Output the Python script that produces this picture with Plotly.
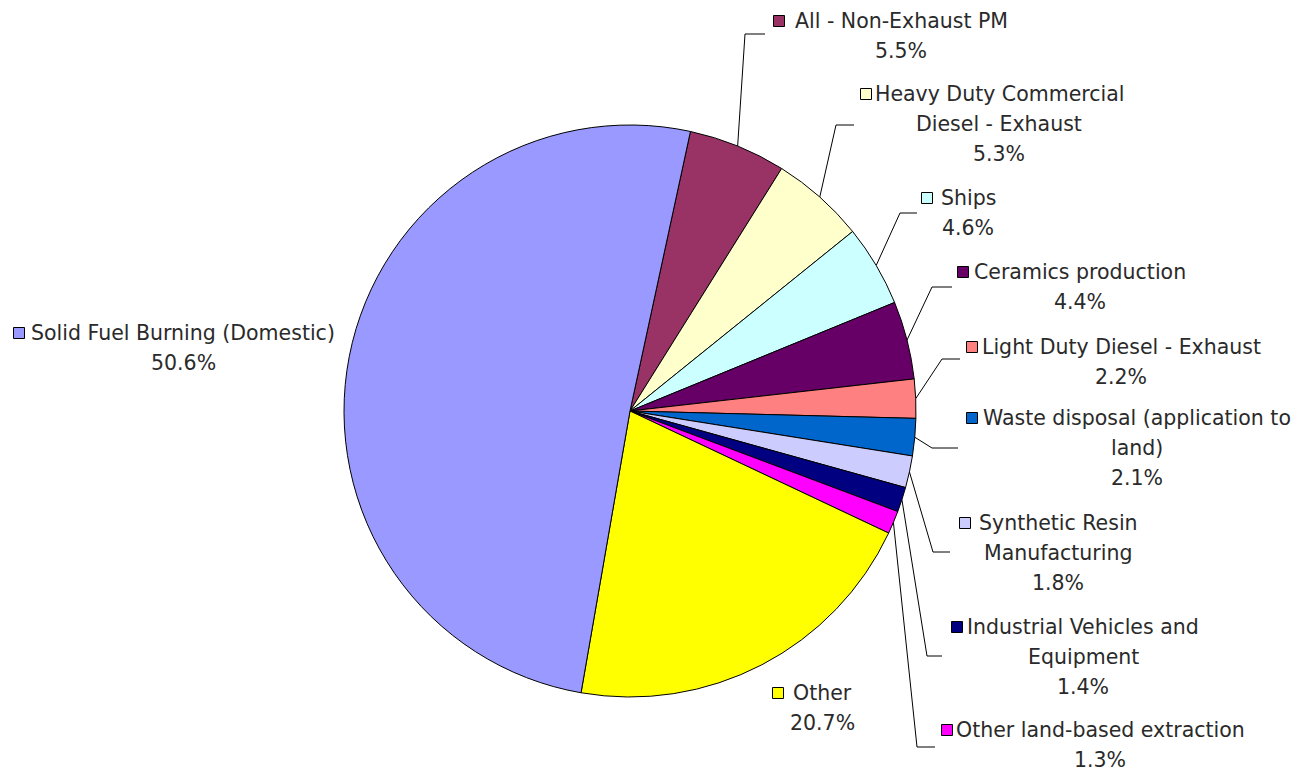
import math
import plotly.graph_objects as go

W, H = 1306, 771

# Source categories, wrapped the way their labels are printed
label_lines = [
    ["All - Non-Exhaust PM"],
    ["Heavy Duty Commercial", "Diesel - Exhaust"],
    ["Ships"],
    ["Ceramics production"],
    ["Light Duty Diesel - Exhaust"],
    ["Waste disposal (application to", "land)"],
    ["Synthetic Resin", "Manufacturing"],
    ["Industrial Vehicles and", "Equipment"],
    ["Other land-based extraction"],
    ["Other"],
    ["Solid Fuel Burning (Domestic)"],
]
sources = [" ".join(lines) for lines in label_lines]

# Share of emissions (%)
shares = [5.5, 5.3, 4.6, 4.4, 2.2, 2.1, 1.8, 1.4, 1.3, 20.7, 50.6]

colors = [
    "#993366", "#FFFFCC", "#CCFFFF", "#660066", "#FF8080", "#0066CC",
    "#CCCCFF", "#000080", "#FF00FF", "#FFFF00", "#9999FF",
]

# ---- layout (pixels) ----
CX, CY, R = 630, 411, 286
ROTATION = 12.2
LINE_H = 30
FONT = dict(family="DejaVu Sans", size=20.5, color="#2a2a2a")

label_cx = [901, 999, 968, 1080, 1121, 1137, 1058, 1083, 1100, 822, 183]
label_y = [21, 94, 198, 272, 347, 418, 523, 627, 730, 693, 333]
key_x = [779, 866, 927, 963, 972, 972, 965, 957, 947, 778, 19]
# leader elbow (x, y) and the x where the short horizontal run ends
elbows = [
    (745, 34, 765), (836, 125, 854), (900, 213, 917), (932, 287, 952),
    (942, 359, 960), (932, 448, 958), (933, 552, 950), (927, 656, 942),
    (917, 747, 935), None, None,
]

fig = go.Figure()

fig.add_trace(go.Pie(
    labels=sources,
    values=shares,
    sort=False,
    direction="clockwise",
    rotation=ROTATION,
    marker=dict(colors=colors, line=dict(color="#000000", width=1)),
    textinfo="none",
    hoverinfo="label+percent",
    showlegend=False,
    domain=dict(
        x=[(CX - R) / W, (CX + R) / W],
        y=[(H - CY - R) / H, (H - CY + R) / H],
    ),
))

# Leader lines from the middle of each slice's rim out to its label
total = sum(shares)
lx, ly = [], []
cum = 0.0
for v, elb in zip(shares, elbows):
    mid = math.radians(ROTATION + (cum + v / 2) / total * 360)
    cum += v
    if elb is None:
        continue
    sx = CX + R * math.sin(mid)
    sy = CY - R * math.cos(mid)
    ex, ey, endx = elb
    lx += [sx, ex, endx, None]
    ly += [sy, ey, ey, None]

fig.add_trace(go.Scatter(
    x=lx, y=ly, mode="lines",
    line=dict(color="#000000", width=1),
    hoverinfo="skip", showlegend=False,
))

# Legend keys beside each label
fig.add_trace(go.Scatter(
    x=key_x, y=label_y, mode="markers",
    marker=dict(symbol="square", size=11, color=colors,
                line=dict(color="#000000", width=1)),
    hoverinfo="skip", showlegend=False,
))

annotations = []
for lines, v, x, y in zip(label_lines, shares, label_cx, label_y):
    for i, txt in enumerate(lines + [f"{v:.1f}%"]):
        annotations.append(dict(
            x=x, y=y + i * LINE_H, xref="x", yref="y",
            text=txt, showarrow=False,
            xanchor="center", yanchor="middle",
            font=FONT,
        ))

fig.update_layout(
    width=W, height=H,
    margin=dict(l=0, r=0, t=0, b=0),
    paper_bgcolor="white", plot_bgcolor="white",
    xaxis=dict(range=[0, W], visible=False, fixedrange=True),
    yaxis=dict(range=[H, 0], visible=False, fixedrange=True),
    annotations=annotations,
    showlegend=False,
)

fig.write_html("out.html")
